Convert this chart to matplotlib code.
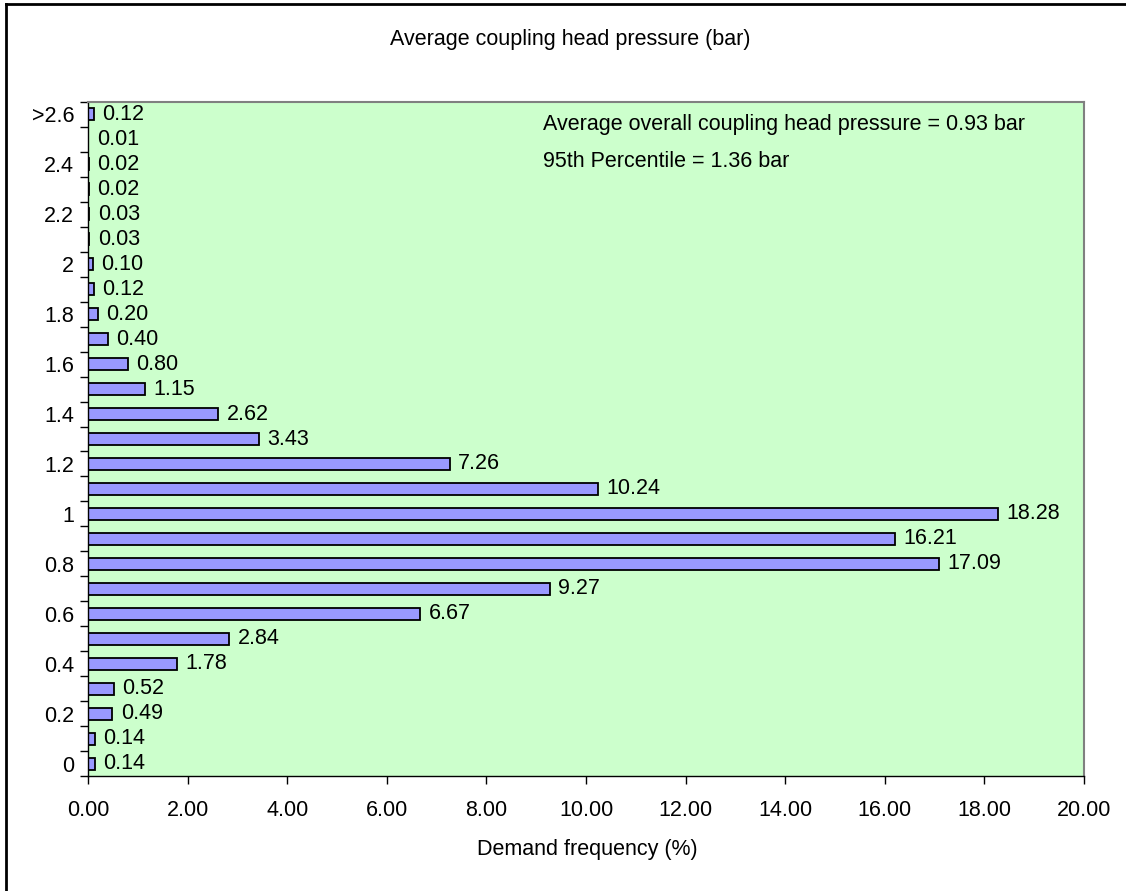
import matplotlib.pyplot as plt
from matplotlib.lines import Line2D

plt.rcParams["font.family"] = ["Liberation Sans", "DejaVu Sans"]
FS = 15.5

# pressure bins, bottom to top (every other bin labelled on the axis)
pressure_labels = ["0", "", "0.2", "", "0.4", "", "0.6", "", "0.8", "",
                   "1", "", "1.2", "", "1.4", "", "1.6", "", "1.8", "",
                   "2", "", "2.2", "", "2.4", "", ">2.6"]
frequency = [0.14, 0.14, 0.49, 0.52, 1.78, 2.84, 6.67, 9.27, 17.09, 16.21,
             18.28, 10.24, 7.26, 3.43, 2.62, 1.15, 0.80, 0.40, 0.20, 0.12,
             0.10, 0.03, 0.03, 0.02, 0.02, 0.01, 0.12]
x_ticks = [0, 2, 4, 6, 8, 10, 12, 14, 16, 18, 20]

avg_pressure = 0.93
p95_pressure = 1.36

fig = plt.figure(figsize=(11.26, 8.91), dpi=100)
ax = fig.add_axes([88 / 1126, 1 - 776 / 891, 996 / 1126, 674 / 891])
ax.set_facecolor("#CCFFCC")

pos = list(range(len(frequency)))
ax.barh(pos, frequency, height=0.48, color="#9999FF", edgecolor="black", linewidth=1.3)

for y, v in zip(pos, frequency):
    ax.annotate(f"{v:.2f}", (v, y), xytext=(6, 0), textcoords="offset points",
                va="center", ha="left", fontsize=FS)

ax.set_xlim(0, 20)
ax.set_ylim(-0.5, len(frequency) - 0.5)
ax.set_xticks(x_ticks)
ax.set_xticklabels([f"{t:.2f}" for t in x_ticks], fontsize=FS)

# category boundaries carry the tick marks, labels sit at bin centres
ax.set_yticks([p - 0.5 for p in pos] + [len(pos) - 0.5])
ax.set_yticklabels([])
ax.set_yticks(pos, minor=True)
ax.set_yticklabels(pressure_labels, minor=True, fontsize=FS)
ax.tick_params(axis="y", which="minor", length=0, pad=10)
ax.tick_params(axis="y", which="major", length=6, width=1, direction="out")
ax.tick_params(axis="x", length=6, width=1, direction="out", pad=11)

for side in ("top", "right"):
    ax.spines[side].set_color("#808080")
    ax.spines[side].set_linewidth(1.5)
for side in ("left", "bottom"):
    ax.spines[side].set_color("black")
    ax.spines[side].set_linewidth(1)

ax.text(0.457, 0.966, f"Average overall coupling head pressure = {avg_pressure:.2f} bar",
        transform=ax.transAxes, va="center", ha="left", fontsize=FS)
ax.text(0.457, 0.911, f"95th Percentile = {p95_pressure:.2f} bar",
        transform=ax.transAxes, va="center", ha="left", fontsize=FS)

fig.text(570 / 1126, 1 - 40 / 891, "Average coupling head pressure (bar)",
         ha="center", va="center", fontsize=FS)
fig.text(587 / 1126, 1 - 849 / 891, "Demand frequency (%)",
         ha="center", va="center", fontsize=FS)

# chart frame (left and top edges)
fig.add_artist(Line2D([6 / 1126, 6 / 1126], [0, 1 - 4 / 891], transform=fig.transFigure,
                      color="black", linewidth=2))
fig.add_artist(Line2D([6 / 1126, 1], [1 - 4 / 891, 1 - 4 / 891], transform=fig.transFigure,
                      color="black", linewidth=2))

fig.savefig("out.png", dpi=100)
